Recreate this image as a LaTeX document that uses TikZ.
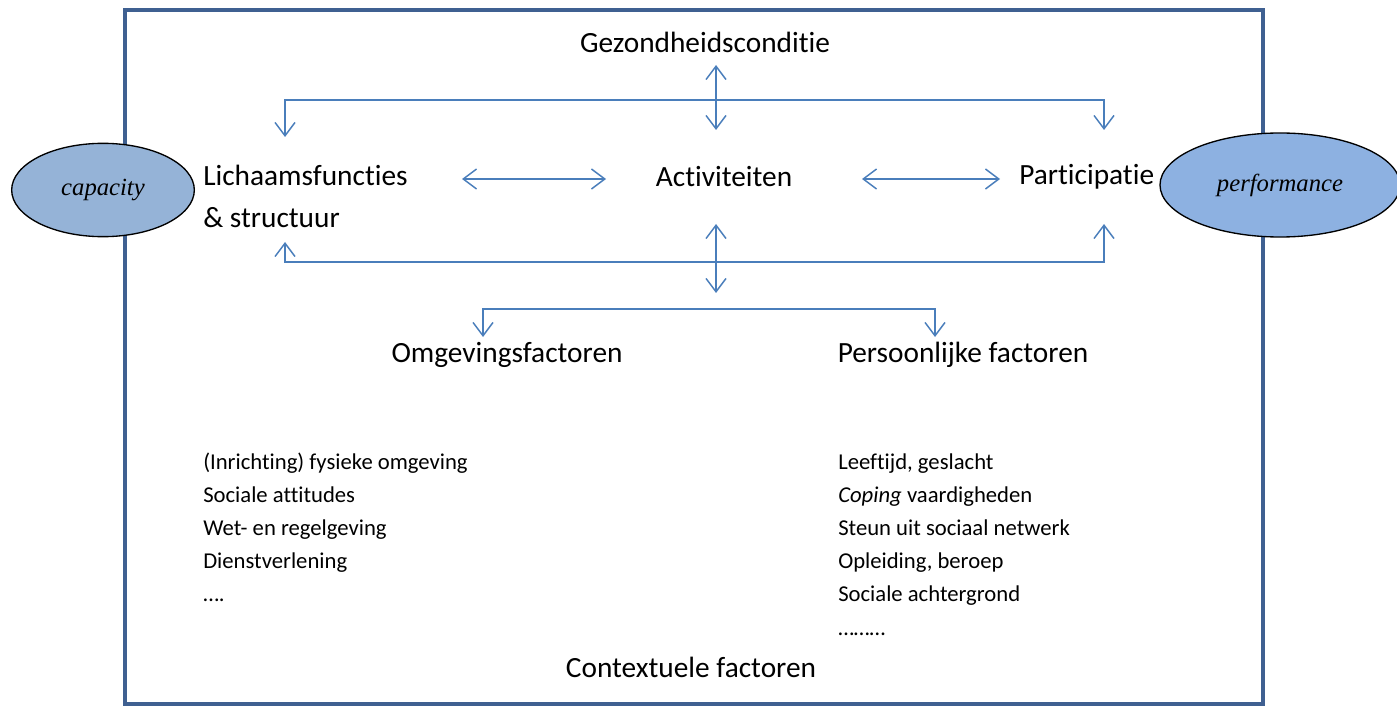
\documentclass[tikz,border=0pt]{standalone}
\usepackage{fontspec}
\setmainfont{Carlito}[Ligatures={TeX,NoCommon}]
\newfontfamily\ovalfont{Liberation Serif}
\usetikzlibrary{arrows.meta,shapes.geometric}

\definecolor{framecol}{RGB}{63,96,145}
\definecolor{flowcol}{RGB}{74,126,187}
\definecolor{capfill}{RGB}{149,179,215}
\definecolor{perffill}{RGB}{141,177,225}

\tikzset{
  frame/.style={draw=framecol, line width=3pt},
  flow/.style={draw=flowcol, line width=1.1pt,
    {Straight Barb[length=10pt,width=15pt]}-{Straight Barb[length=10pt,width=15pt]}},
  big/.style={inner sep=0pt, font=\fontsize{22}{26}\selectfont},
  small/.style={inner sep=0pt, font=\fontsize{17}{20}\selectfont, anchor=base west},
  oval/.style={ellipse, draw=black, line width=1pt, inner sep=0pt,
    font=\ovalfont\itshape\fontsize{18.5}{22}\selectfont}
}

\begin{document}
\begin{tikzpicture}[x=0.75pt,y=-0.75pt]
  \useasboundingbox (0,0) rectangle (1397,706);
  \draw[frame] (125,10) rectangle (1263,704);

  \node[big, anchor=base] (gez) at (705,53) {Gezondheidsconditie};
  \node[big, anchor=base west] (lich) at (203,186) {Lichaamsfuncties};
  \node[big, anchor=base west] (struc) at (203,228) {\& structuur};
  \node[big, anchor=base] (act) at (724,187) {Activiteiten};
  \node[big, anchor=base west] (part) at (1019,185) {Participatie};
  \node[big, anchor=base] (omg) at (507,363) {Omgevingsfactoren};
  \node[big, anchor=base] (pers) at (963,363) {Persoonlijke factoren};
  \node[big, anchor=base] (ctx) at (691,677) {Contextuele factoren};

  \node[oval, fill=capfill, minimum width=137pt, minimum height=70pt] (cap) at (103,190) {capacity};
  \node[oval, fill=perffill, minimum width=180pt, minimum height=78pt] (perf) at (1280,185) {performance};

  % lists under the factors
  \foreach \txt [count=\i] in {{(Inrichting) fysieke omgeving}, {Sociale attitudes},
      {Wet- en regelgeving}, {Dienstverlening}, {\dots.}}
    \node[small] (omg-\i) at (203,{469+33.2*(\i-1)}) {\txt};
  \foreach \txt [count=\i] in {{Leeftijd, geslacht}, {\textit{Coping} vaardigheden},
      {Steun uit sociaal netwerk}, {Opleiding, beroep}, {Sociale achtergrond}, {\dots\dots\dots}}
    \node[small] (pers-\i) at (838,{469+33.2*(\i-1)}) {\txt};

  % arrow ends
  \coordinate (gez-s) at (716,65);
  \coordinate (act-top) at (716,130);
  \coordinate (lich-n) at (285,137);
  \coordinate (part-n) at (1104,130);
  \coordinate (bar-top) at (716,100);
  \coordinate (lich-e) at (462,179);
  \coordinate (act-w) at (606,179);
  \coordinate (act-e) at (862,179);
  \coordinate (part-w) at (1000,179);
  \coordinate (struc-s) at (285,242);
  \coordinate (part-s) at (1104,224);
  \coordinate (bar-mid) at (716,262);
  \coordinate (act-s) at (716,224);
  \coordinate (fac-n) at (716,293);
  \coordinate (bar-low) at (716,309);
  \coordinate (omg-n) at (483,337);
  \coordinate (pers-n) at (935,337);

  \draw[flow] (gez-s) -- (act-top);
  \draw[flow] (lich-n) |- (bar-top) -| (part-n);
  \draw[flow] (lich-e) -- (act-w);
  \draw[flow] (act-e) -- (part-w);
  \draw[flow] (struc-s) |- (bar-mid) -| (part-s);
  \draw[flow] (act-s) -- (fac-n);
  \draw[flow] (omg-n) |- (bar-low) -| (pers-n);
\end{tikzpicture}
\end{document}
